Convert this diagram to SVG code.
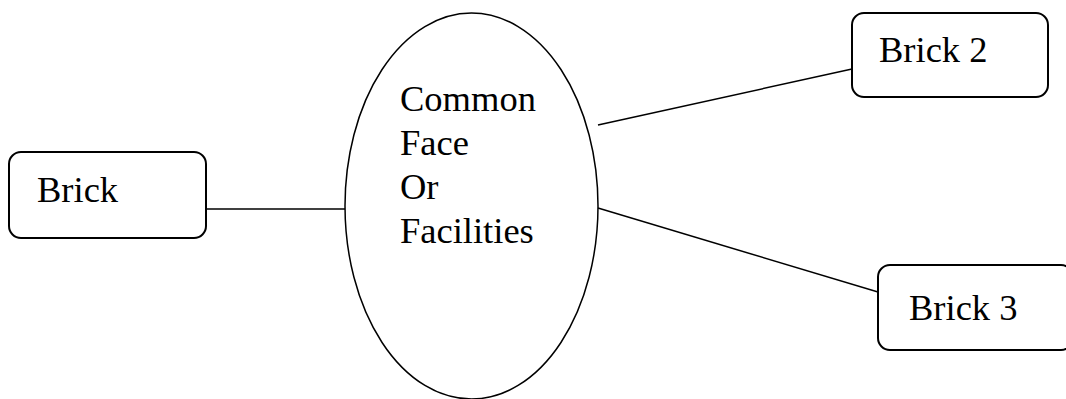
<svg xmlns="http://www.w3.org/2000/svg" width="1066" height="399" viewBox="0 0 1066 399">
<style>
.box{fill:#fff;stroke:#000;stroke-width:2}
.ell{fill:#fff;stroke:#000;stroke-width:1.5}
.lbl{font-family:"Liberation Serif","Times New Roman",serif;font-size:36.5px;fill:#000}
.con{stroke:#000;stroke-width:1.5;fill:none}
</style>
<rect width="1066" height="399" fill="#fff"/>
<g id="connectors">
<line class="con" x1="206" y1="209" x2="345" y2="209"/>
<line class="con" x1="598" y1="125" x2="852" y2="69"/>
<line class="con" x1="598" y1="208" x2="878" y2="292"/>
</g>
<g id="node-brick">
<rect class="box" x="9" y="152" width="197" height="86" rx="12"/>
<text class="lbl" x="37" y="202">Brick</text>
</g>
<g id="node-common">
<ellipse class="ell" cx="471.5" cy="206" rx="126.5" ry="193"/>
<text class="lbl" x="400" y="111">Common</text>
<text class="lbl" x="400" y="155">Face</text>
<text class="lbl" x="400" y="199">Or</text>
<text class="lbl" x="400" y="243">Facilities</text>
</g>
<g id="node-brick2">
<rect class="box" x="852" y="13" width="196" height="84" rx="12"/>
<text class="lbl" x="879" y="62">Brick 2</text>
</g>
<g id="node-brick3">
<rect class="box" x="878" y="265" width="195" height="85" rx="12"/>
<text class="lbl" x="909" y="320">Brick 3</text>
</g>
</svg>
